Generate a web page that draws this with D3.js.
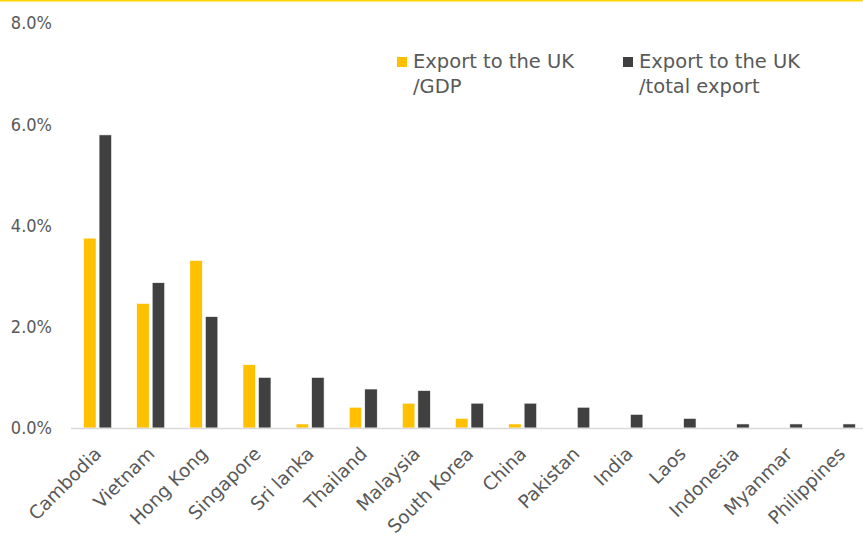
<!DOCTYPE html>
<html>
<head>
<meta charset="utf-8">
<script src="https://cdn.jsdelivr.net/npm/d3@7"></script>
<style>
  html, body { margin: 0; padding: 0; background: #fff; }
  svg { display: block; }
  text { font-family: "DejaVu Sans", sans-serif; fill: #595959; }
</style>
</head>
<body>
<svg id="chart" width="863" height="540"></svg>
<script>
// Exports to the UK, by Asian economy (% values)
const countries = ["Cambodia", "Vietnam", "Hong Kong", "Singapore", "Sri lanka", "Thailand",
  "Malaysia", "South Korea", "China", "Pakistan", "India", "Laos", "Indonesia", "Myanmar", "Philippines"];
const exportGdp   = [3.75, 2.46, 3.31, 1.25, 0.08, 0.41, 0.49, 0.19, 0.08, 0, 0, 0, 0, 0, 0];
const exportTotal = [5.79, 2.87, 2.20, 1.00, 1.00, 0.77, 0.74, 0.49, 0.49, 0.41, 0.27, 0.19, 0.08, 0.08, 0.08];
const yTicks = [0, 2, 4, 6, 8];
const seriesNames = [["Export to the UK", "/GDP"], ["Export to the UK", "/total export"]];
const seriesColors = ["#FFC000", "#404040"];

const svg = d3.select("#chart");
const W = 863, H = 540;

// thin accent rule along the top edge
svg.append("rect").attr("x", 0).attr("y", 0).attr("width", W).attr("height", 1.5).attr("fill", "#FFD400");

const x = d3.scaleBand().domain(countries).range([71, 868]);
const y = d3.scaleLinear().domain([0, 8]).range([428, 23]);
const barW = 12.5, gap = 3;

// y tick labels
svg.append("g").selectAll("text").data(yTicks).join("text")
  .attr("x", 52).attr("y", d => y(d)).attr("dy", "0.36em")
  .attr("text-anchor", "end")
  .style("font-family", "'DejaVu Sans Condensed', 'DejaVu Sans', sans-serif")
  .style("font-size", "18px")
  .text(d => d.toFixed(1) + "%");

// bars
const series = [exportGdp, exportTotal];
series.forEach((vals, s) => {
  svg.append("g").selectAll("rect").data(countries).join("rect")
    .attr("x", (c) => x(c) + x.bandwidth() / 2 + (s === 0 ? -(barW + gap / 2) : gap / 2))
    .attr("y", (c, i) => y(vals[i]))
    .attr("width", barW)
    .attr("height", (c, i) => y(0) - y(vals[i]))
    .attr("fill", seriesColors[s])
    .attr("stroke", "#ffffff").attr("stroke-width", 0.6);
});

// category axis baseline
svg.append("line").attr("x1", 71).attr("x2", W).attr("y1", y(0) + 0.5).attr("y2", y(0) + 0.5)
  .attr("stroke", "#d9d9d9").attr("stroke-width", 1.5);

// rotated category labels
svg.append("g").selectAll("text").data(countries).join("text")
  .attr("transform", c => `translate(${x(c) + x.bandwidth() / 2 + 5},${y(0) + 27}) rotate(-45)`)
  .attr("text-anchor", "end")
  .style("font-size", "18.5px")
  .text(c => c);

// legend
const legendX = [397, 623];
seriesNames.forEach((lines, s) => {
  const g = svg.append("g");
  g.append("rect").attr("x", legendX[s]).attr("y", 57).attr("width", 10).attr("height", 10)
    .attr("fill", seriesColors[s]);
  lines.forEach((t, k) => {
    g.append("text").attr("x", legendX[s] + 16).attr("y", 68 + k * 25)
      .style("font-size", "19.5px").text(t);
  });
});
</script>
</body>
</html>
